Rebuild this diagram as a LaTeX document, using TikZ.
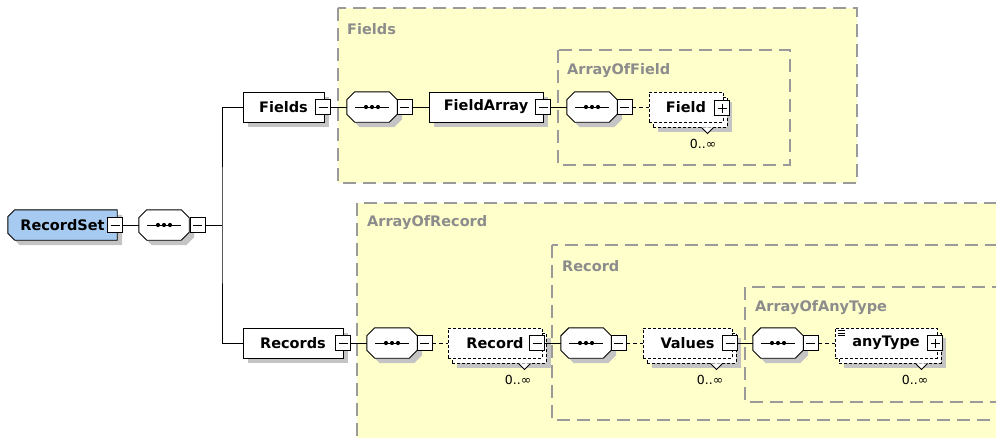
\documentclass[tikz,border=0pt]{standalone}
\usepackage{fontspec}
\setmainfont{DejaVu Sans}
\usetikzlibrary{shadows}
\definecolor{grpfill}{HTML}{FFFFCC}
\definecolor{grpline}{HTML}{9A9A9A}
\definecolor{grptext}{HTML}{8C8C8C}
\definecolor{rootfill}{HTML}{A6CAF0}
\definecolor{shadowgray}{HTML}{C4C4C4}
\pgfdeclarelayer{groups}
\pgfdeclarelayer{shapes}
\pgfsetlayers{groups,shapes,main}
% octagon outline around a named node, shifted by (#2,#3)
\newcommand\octpath[3]{([shift={(#2+8pt,#3)}]#1.north west) -- ([shift={(#2-8pt,#3)}]#1.north east) -- ([shift={(#2,#3-8pt)}]#1.north east) -- ([shift={(#2,#3+8pt)}]#1.south east) -- ([shift={(#2-8pt,#3)}]#1.south east) -- ([shift={(#2+8pt,#3)}]#1.south west) -- ([shift={(#2,#3+8pt)}]#1.south west) -- ([shift={(#2,#3-8pt)}]#1.north west) -- cycle}
\newcommand\rootpath[3]{([shift={(#2+7pt,#3)}]#1.north west) -- ([shift={(#2,#3)}]#1.north east) -- ([shift={(#2,#3)}]#1.south east) -- ([shift={(#2+7pt,#3)}]#1.south west) -- ([shift={(#2,#3+7pt)}]#1.south west) -- ([shift={(#2,#3-7pt)}]#1.north west) -- cycle}
\newcommand\seqnode[2]{%
  \node[seqcore] (#1) at (#2) {};
  \begin{pgfonlayer}{shapes}
  \fill[shadowgray] \octpath{#1}{5pt}{-5pt};
  \filldraw[seqline] \octpath{#1}{0pt}{0pt};
  \draw[line width=1pt] ([xshift=-17pt]#1.center) -- ([xshift=17pt]#1.center);
  \foreach \d in {-6,0,6} \fill ([xshift=\d pt]#1.center) circle (2.1pt);
  \end{pgfonlayer}}
\begin{document}
\begin{tikzpicture}[x=1pt,y=-1pt,
  lbl/.style={font=\fontsize{14.5}{16}\selectfont\bfseries},
  grpbox/.style={draw=grpline, line width=1.3pt, dash pattern=on 13pt off 7pt},
  grplabel/.style={anchor=west, inner sep=0pt, text=grptext, font=\fontsize{14.5}{16}\selectfont\bfseries},
  dshadow/.style={drop shadow={shadow xshift=5pt, shadow yshift=-5pt, fill=shadowgray, opacity=1}},
  elembox/.style={draw, line width=0.9pt, fill=white, rectangle, minimum height=30pt, inner sep=0pt, lbl, dshadow},
  rootcore/.style={rectangle, minimum height=30pt, inner sep=0pt, lbl},
  seqcore/.style={rectangle, minimum width=50pt, minimum height=30pt, inner sep=0pt},
  seqline/.style={draw, line width=0.9pt, fill=white},
  backbox/.style={draw, line width=0.9pt, dash pattern=on 3pt off 2pt, fill=white, rectangle, minimum height=30pt, inner sep=0pt, dshadow},
  optbox/.style={draw, line width=0.9pt, dash pattern=on 3pt off 2pt, fill=white, rectangle, minimum height=30pt, inner sep=0pt, lbl},
  collapse/.style={draw, fill=white, line width=0.9pt, rectangle, minimum size=15pt, inner sep=0pt,
    path picture={\draw[line width=0.9pt] ([xshift=3pt]path picture bounding box.west) -- ([xshift=-3pt]path picture bounding box.east);}},
  expand/.style={draw, fill=white, line width=0.9pt, rectangle, minimum size=15pt, inner sep=0pt,
    path picture={\draw[line width=0.9pt] ([xshift=3pt]path picture bounding box.west) -- ([xshift=-3pt]path picture bounding box.east);
      \draw[line width=0.9pt] ([yshift=-3pt]path picture bounding box.north) -- ([yshift=3pt]path picture bounding box.south);}},
  conn/.style={line width=1pt},
  optconn/.style={line width=1pt, dash pattern=on 4pt off 3pt},
  notch/.style={line width=0.9pt, fill=white},
  mult/.style={inner sep=0pt, font=\fontsize{12.5}{14}\selectfont}
]
\useasboundingbox (0,0) rectangle (996,437);
\clip (0,0) rectangle (996,437);

% group boxes
\begin{pgfonlayer}{groups}
\fill[white] (0,0) rectangle (996,437);
\draw[grpbox, fill=grpfill] (338,8) rectangle (857,183);
\draw[grpbox] (558,50) rectangle (790,165);
\draw[grpbox, fill=grpfill] (357,203) rectangle (1020,460);
\draw[grpbox] (552,245) rectangle (1020,420);
\draw[grpbox] (745,287) rectangle (1020,402);
\end{pgfonlayer}
\node[grplabel] (gFields) at (347,29) {Fields};
\node[grplabel] (gAOF) at (567,71) {ArrayOfField};
\node[grplabel] (gAOR) at (367,223) {ArrayOfRecord};
\node[grplabel] (gRec) at (562,266) {Record};
\node[grplabel] (gAAT) at (755,308) {ArrayOfAnyType};

% root
\node[rootcore, minimum width=109pt] (root) at (62.5,225) {RecordSet\hspace{8pt}};
\begin{pgfonlayer}{shapes}
\fill[shadowgray] \rootpath{root}{5pt}{-5pt};
\filldraw[draw, line width=0.9pt, fill=rootfill] \rootpath{root}{0pt}{0pt};
\end{pgfonlayer}
\node[collapse] (m0) at (115,225) {};
\seqnode{s0}{164,225}
\node[collapse] (sm0) at (197.5,225) {};
\coordinate (bar) at (222,225);

% Fields row
\node[elembox, minimum width=81pt] (fields) at (283.5,107) {Fields\hspace{7pt}};
\node[collapse] (mF) at (323,107) {};
\seqnode{s1}{372,107}
\node[collapse] (sm1) at (404.5,107) {};
\node[elembox, minimum width=114pt] (fieldarray) at (486,107) {FieldArray\hspace{5pt}};
\node[collapse] (mFA) at (543,107) {};
\seqnode{s2}{592,107}
\node[collapse] (sm2) at (624.5,107) {};
\node[backbox, minimum width=74pt] (fieldB) at (690,112) {};
\node[optbox, minimum width=74pt] (field) at (686,107) {Field\hspace{10pt}};
\node[expand] (pF) at (722,108) {};
\filldraw[notch] ([xshift=-26pt]fieldB.south east) -- ([xshift=-20pt,yshift=-6pt]fieldB.south east) -- ([xshift=-14pt]fieldB.south east);
\node[mult, anchor=east] (fieldM) at ([xshift=-11pt,yshift=-16pt]fieldB.south east) {0..∞};

% Records row
\node[elembox, minimum width=100pt] (records) at (293,343) {Records\hspace{6pt}};
\node[collapse] (mR) at (343,343) {};
\seqnode{s3}{392,343}
\node[collapse] (sm3) at (424.5,343) {};
\node[backbox, minimum width=94pt] (recordB) at (499,348) {};
\node[optbox, minimum width=94pt] (record) at (495,343) {Record\hspace{11pt}};
\node[collapse] (mRec) at (537,343) {};
\filldraw[notch] ([xshift=-28pt]recordB.south east) -- ([xshift=-22pt,yshift=-6pt]recordB.south east) -- ([xshift=-16pt]recordB.south east);
\node[mult, anchor=east] (recordM) at ([xshift=-15pt,yshift=-16pt]recordB.south east) {0..∞};
\seqnode{s4}{586,343}
\node[collapse] (sm4) at (618.5,343) {};
\node[backbox, minimum width=89pt] (valuesB) at (691.5,348) {};
\node[optbox, minimum width=89pt] (values) at (687.5,343) {Values\hspace{6pt}};
\node[collapse] (mV) at (730,343) {};
\filldraw[notch] ([xshift=-26pt]valuesB.south east) -- ([xshift=-20pt,yshift=-6pt]valuesB.south east) -- ([xshift=-14pt]valuesB.south east);
\node[mult, anchor=east] (valuesM) at ([xshift=-13pt,yshift=-16pt]valuesB.south east) {0..∞};
\seqnode{s5}{778,343}
\node[collapse] (sm5) at (810.5,343) {};
\node[backbox, minimum width=102pt] (anyB) at (890,348) {};
\node[optbox, minimum width=102pt] (any) at (886,343) {anyType\hspace{8pt}};
\node[expand] (pA) at (935,343) {};
\filldraw[notch] ([xshift=-26pt]anyB.south east) -- ([xshift=-20pt,yshift=-6pt]anyB.south east) -- ([xshift=-14pt]anyB.south east);
\node[mult, anchor=east] (anyM) at ([xshift=-13pt,yshift=-16pt]anyB.south east) {0..∞};
\foreach \k in {3,5.5,8}
  \draw[line width=0.8pt] ([shift={(3pt,-\k pt)}]any.north west) -- ++(7pt,0pt);

% connectors
\draw[conn] (m0.east) -- (s0.west);
\draw[conn] (sm0.east) -- (bar);
\draw[conn] (fields.west) -| (bar) |- (records.west);
\draw[conn] (mF.east) -- (s1.west);
\draw[conn] (sm1.east) -- (fieldarray.west);
\draw[conn] (mFA.east) -- (s2.west);
\draw[optconn] (sm2.east) -- (field.west);
\draw[conn] (mR.east) -- (s3.west);
\draw[optconn] (sm3.east) -- (record.west);
\draw[conn] (mRec.east) -- (s4.west);
\draw[optconn] (sm4.east) -- (values.west);
\draw[conn] (mV.east) -- (s5.west);
\draw[optconn] (sm5.east) -- (any.west);
\end{tikzpicture}
\end{document}
